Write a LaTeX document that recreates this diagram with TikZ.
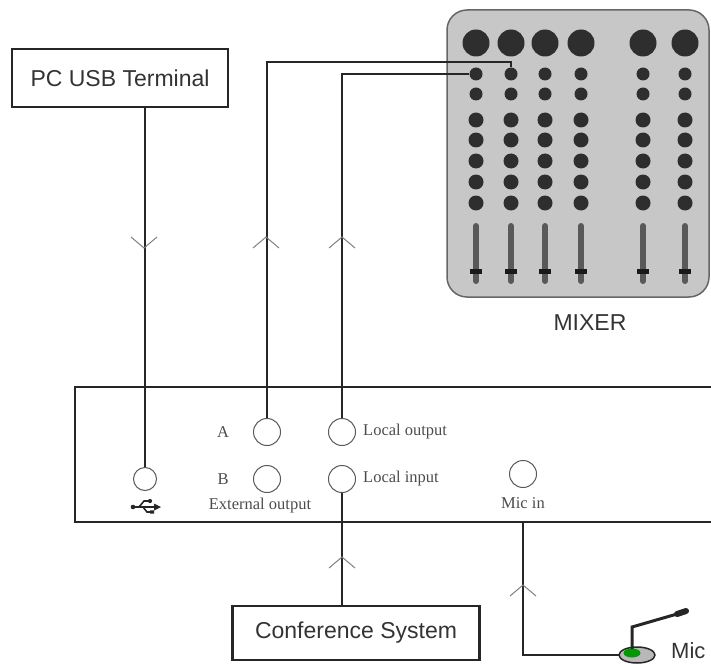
\documentclass[tikz,border=0pt]{standalone}
\usepackage{fontspec}
\setmainfont{Liberation Serif}
\setsansfont{Liberation Sans}
\usetikzlibrary{shapes.geometric}
\tikzset{
  chev/.style={draw=black!50, line width=1pt},
  upchev/.pic={\draw[chev] (-13,11) -- (0,0) -- (13,11);},
  downchev/.pic={\draw[chev] (-13,-11) -- (0,0) -- (13,-11);}
}
\begin{document}
\begin{tikzpicture}[x=1pt,y=-1pt,
  wire/.style={draw=black!85, line width=2.8pt},
  termbox/.style={draw=black!85, line width=2.8pt, inner sep=0pt, text=black!80,
    font=\sffamily\fontsize{23}{23}\selectfont},
  port/.style={circle, draw=black!65, line width=1pt, minimum size=27pt, inner sep=0pt},
  lbl/.style={text=black!70, inner sep=1pt, font=\fontsize{16.5}{16.5}\selectfont},
  knob/.style={circle, fill=black!82, inner sep=0pt, minimum size=#1}]
  \useasboundingbox (0,0) rectangle (711,663);
  \draw[draw=black!60, fill=black!22, line width=1.5pt, rounded corners=20pt] (447,10) rectangle (709,297);
  \foreach \c/\x in {1/476,2/511,3/545,4/581,5/643,6/685} {
    \node[knob=27pt] (big\c) at (\x,43) {};
    \foreach \r/\y/\s in {1/74/13pt,2/94/13pt,3/120/15pt,4/140/15pt,5/161/15pt,6/182/15pt,7/203/15pt}
      \node[knob=\s] (kn\r\c) at (\x,\y) {};
    \draw[line width=6pt, line cap=round, black!65] (\x,226) -- (\x,281);
    \fill[black!90] (\x-6,268.5) rectangle (\x+6,273.5);
  }
  \node[font=\sffamily\fontsize{23}{23}\selectfont, text=black!80] (mixlbl) at (590,323) {MIXER};

  \node[termbox, minimum width=216pt, minimum height=58pt] (pc) at (120,78) {PC USB Terminal};
  \node[termbox, minimum width=247pt, minimum height=54pt] (conf) at (356,633) {Conference System};

  \draw[wire] (711,387) -- (75,387) -- (75,522) -- (711,522);
  \coordinate (devB) at (75,522);

  \node[port] (pA) at (267,432) {};
  \node[port] (pLO) at (342,432) {};
  \node[port] (pB) at (267,479) {};
  \node[port] (pLI) at (342,479) {};
  \node[port, minimum size=23pt] (pUSB) at (145,479) {};
  \node[port] (pMic) at (523,474) {};
  \node[lbl] (lA) at (223,432) {A};
  \node[lbl] (lB) at (223,479) {B};
  \node[lbl, anchor=west] (lLO) at (362,432) {Local output};
  \node[lbl, anchor=west] (lLI) at (362,479) {Local input};
  \node[lbl] (lExt) at (260,506) {External output};
  \node[lbl] (lMic) at (523,503) {Mic in};

  \draw[line width=1.6pt, black!85] (133,507) -- (156,507)
    (139,507) -- (144,501) -- (149,501) (143,507) -- (147,512) -- (151,512);
  \fill[black!85] (133,507) circle (2.3) (150,501) circle (2.1)
    (161,507) -- (154,503.5) -- (154,510.5) -- cycle (150,510.3) rectangle (154,513.7);

  \draw[fill=black!28, draw=black!85, line width=1.5pt] (637,655) ellipse (18 and 8);
  \node[ellipse, minimum width=36pt, minimum height=16pt, inner sep=0pt] (micbase) at (637,655) {};
  \fill[green!60!black] (632,653) ellipse (8.5 and 4.5);
  \draw[line width=3pt, black!85] (632,649) -- (632,627) -- (677,614);
  \draw[line width=6pt, line cap=round, black!85] (677,614) -- (686,611);
  \node[anchor=west, inner sep=0pt, text=black!80, font=\sffamily\fontsize{22}{22}\selectfont] (miclbl) at (671,651) {Mic};

  \draw[wire] (pUSB |- pc.south) -- (pUSB.north);
  \draw[wire] (pA.north) |- (kn12.north |- 0,62) -- (kn12.north);
  \draw[wire] (pLO.north) |- (kn11.west);
  \draw[wire] (pLI.south) -- (pLI |- conf.north);
  \draw[wire] (pMic |- devB) |- (micbase.west);

  \pic at (144,248) {downchev};
  \pic at (266,237) {upchev};
  \pic at (342,237) {upchev};
  \pic at (342,557) {upchev};
  \pic at (523,585) {upchev};
\end{tikzpicture}
\end{document}
